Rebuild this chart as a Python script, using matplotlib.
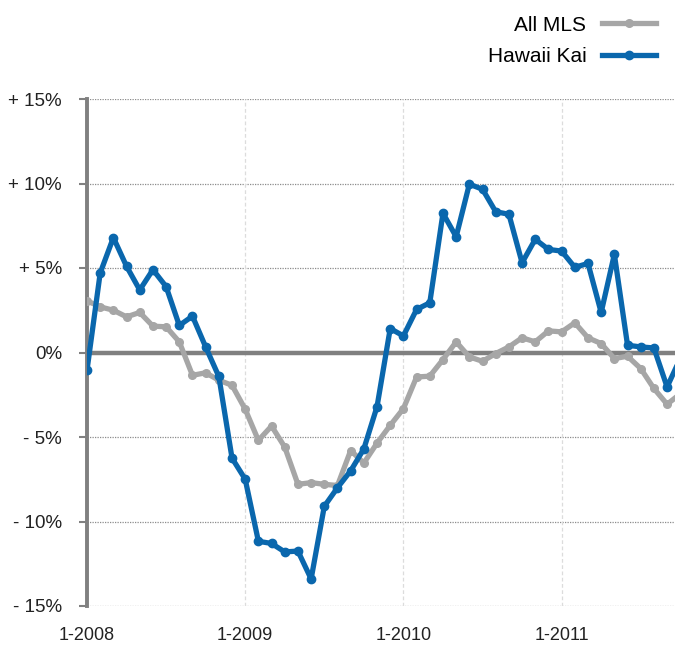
"""Year-over-year change: All MLS vs Hawaii Kai"""

import matplotlib
matplotlib.use("Agg")
import matplotlib.pyplot as plt

plt.rcParams['font.family'] = ['Liberation Sans', 'DejaVu Sans']

# Monthly values, Jan 2008 onwards (percent change)
months = list(range(46))
all_mls = [3.06, 2.7, 2.5, 2.11, 2.37, 1.56, 1.52, 0.63, -1.35, -1.2,
           -1.64, -1.94, -3.36, -5.2, -4.35, -5.6, -7.8, -7.7, -7.8, -7.87,
           -5.8, -6.54, -5.36, -4.31, -3.32, -1.45, -1.4, -0.42, 0.63, -0.26,
           -0.52, -0.06, 0.33, 0.87, 0.63, 1.28, 1.22, 1.76, 0.87, 0.53,
           -0.36, -0.22, -0.95, -2.13, -3.06, -2.45]
hawaii_kai = [-1.05, 4.7, 6.8, 5.1, 3.7, 4.9, 3.9, 1.6, 2.15, 0.33,
              -1.42, -6.25, -7.5, -11.17, -11.3, -11.8, -11.75, -13.4, -9.1, -8.0,
              -7.0, -5.7, -3.2, 1.42, 0.98, 2.55, 2.94, 8.24, 6.85, 9.96,
              9.66, 8.33, 8.18, 5.31, 6.7, 6.1, 6.0, 5.04, 5.27, 2.37,
              5.81, 0.43, 0.33, 0.27, -2.04, -0.35]

year_ticks = [0, 12, 24, 36]
year_labels = ['1-2008', '1-2009', '1-2010', '1-2011']
pct_ticks = [15, 10, 5, 0, -5, -10, -15]
pct_labels = ['+ 15%', '+ 10%', '+ 5%', '0%', '- 5%', '- 10%', '- 15%']

gray = '#a6a6a6'
blue = '#0a67ad'
axis_gray = '#808080'

fig = plt.figure(figsize=(6.75, 6.47), dpi=100)
ax = fig.add_axes([87 / 675, 1 - 606 / 647, 1 - 87 / 675, (606 - 99) / 647])

# Grid: dotted horizontals, faint dashed verticals
for v in pct_ticks:
    if v != 0:
        ax.axhline(v, color='#8c8c8c', lw=0.9, ls=(0, (1, 1)), zorder=1)
for x in year_ticks[1:]:
    ax.axvline(x, color='#dcdcdc', lw=0.9, ls=(0, (3, 2)), zorder=1)
ax.axhline(0, color=axis_gray, lw=3.2, zorder=2)

ax.plot(months, all_mls, color=gray, lw=3.8, marker='o', ms=5.5,
        label='All MLS', zorder=3, solid_joinstyle='round')
ax.plot(months, hawaii_kai, color=blue, lw=3.8, marker='o', ms=6,
        label='Hawaii Kai', zorder=4, solid_joinstyle='round')

ax.set_xlim(0, 44.6)
ax.set_ylim(-15, 15)

ax.set_xticks(year_ticks)
ax.set_xticklabels(year_labels, fontsize=13, color='#222222')
ax.set_yticks(pct_ticks)
ax.set_yticklabels(pct_labels, fontsize=13.5, color='#222222')
ax.tick_params(axis='x', length=0, pad=15)
ax.tick_params(axis='y', length=6, width=1.5, color=axis_gray, pad=12)

for side in ['top', 'right', 'bottom']:
    ax.spines[side].set_visible(False)
ax.spines['left'].set_color(axis_gray)
ax.spines['left'].set_linewidth(2.8)

leg = fig.legend(loc='upper right', bbox_to_anchor=(1.0, 1.005), frameon=False,
                 markerfirst=False, fontsize=15, handlelength=2.6,
                 labelspacing=0.6, handletextpad=0.75)

fig.savefig('out.png', dpi=100)
